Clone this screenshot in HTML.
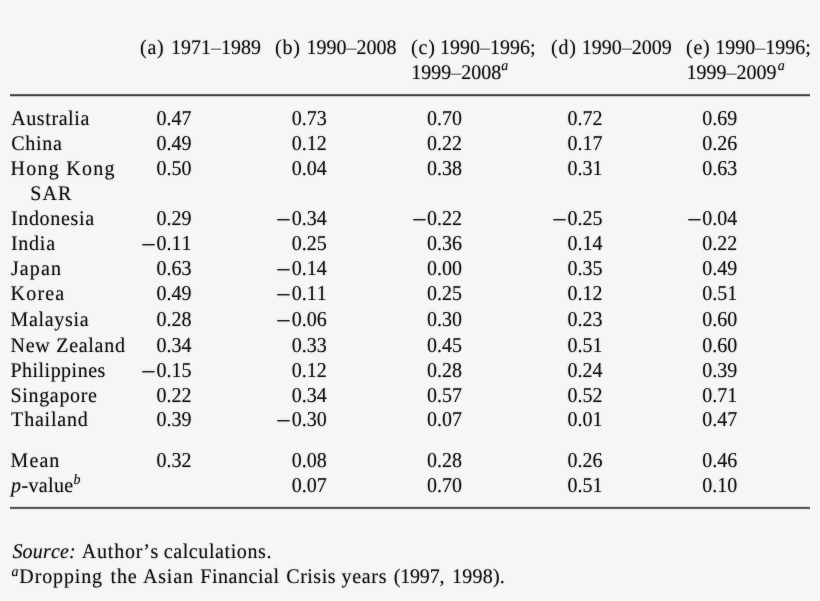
<!DOCTYPE html>
<html>
<head>
<meta charset="utf-8">
<title>Table</title>
<style>
html,body{margin:0;padding:0}
body{width:820px;height:601px;background:#f6f6f6;position:relative;overflow:hidden;font-family:"Liberation Serif",serif;color:#1a1a1a;text-rendering:geometricPrecision}
body::after{content:"";position:absolute;left:0;top:0;width:818px;height:599px;border:1px solid #f9f9f9;pointer-events:none}
#w{position:absolute;left:0;top:0;width:820px;height:601px;filter:blur(0.7px);}
.t,.n,.m{position:absolute;white-space:pre;font-size:20px;line-height:20px;font-kerning:none;-webkit-text-stroke:0px #1a1a1a;text-shadow:0 0 1.7px rgba(0,0,0,0.45)}
.n{transform:scaleY(1.06);transform-origin:50% 55%}
.t{transform:scaleY(1.04);transform-origin:50% 85%}
.m{transform-origin:0 50%;transform:scale(1.32,1.4);color:#2a2a2a;-webkit-text-stroke:0;text-shadow:0 0 1.7px rgba(0,0,0,0.3)}
.s{font-size:14px;position:relative;top:-9px;line-height:0}
.sb{font-size:14px;position:relative;top:-8px;line-height:0}
.s2{font-size:14px;position:relative;top:-7px;line-height:0}
.g{margin-left:1.4px}
.d{color:#555;-webkit-text-stroke:0;text-shadow:none}
svg{position:absolute;left:0;top:0}
</style>
</head>
<body>
<div id="w">
<svg width="820" height="601" viewBox="0 0 820 601" shape-rendering="crispEdges">
<rect x="10" y="93" width="799.6" height="1" fill="rgb(236,236,236)"/>
<rect x="10" y="94" width="799.6" height="1" fill="rgb(105,105,105)"/>
<rect x="10" y="95" width="799.6" height="1" fill="rgb(72,72,72)"/>
<rect x="10" y="96" width="799.6" height="1" fill="rgb(200,200,200)"/>
<rect x="10" y="97" width="799.6" height="1" fill="rgb(244,244,244)"/>
<rect x="10" y="506" width="799.6" height="1" fill="rgb(222,222,222)"/>
<rect x="10" y="507" width="799.6" height="1" fill="rgb(80,80,80)"/>
<rect x="10" y="508" width="799.6" height="1" fill="rgb(108,108,108)"/>
<rect x="10" y="509" width="799.6" height="1" fill="rgb(226,226,226)"/>
</svg>
<span class="m" style="left:141.08px;top:236px">−</span>
<span class="m" style="left:141.08px;top:363px">−</span>
<span class="m" style="left:276.08px;top:211px">−</span>
<span class="m" style="left:276.08px;top:261px">−</span>
<span class="m" style="left:276.08px;top:286px">−</span>
<span class="m" style="left:276.08px;top:312px">−</span>
<span class="m" style="left:276.08px;top:412px">−</span>
<span class="m" style="left:411.88px;top:211px">−</span>
<span class="m" style="left:551.88px;top:211px">−</span>
<span class="m" style="left:686.68px;top:211px">−</span>
<span class="n" style="left:156.50px;top:109px">0.47</span>
<span class="n" style="left:156.50px;top:134px">0.49</span>
<span class="n" style="left:156.50px;top:159px">0.50</span>
<span class="n" style="left:156.50px;top:209px">0.29</span>
<span class="n" style="left:156.50px;top:234px">0.11</span>
<span class="n" style="left:156.50px;top:259px">0.63</span>
<span class="n" style="left:156.50px;top:284px">0.49</span>
<span class="n" style="left:156.50px;top:310px">0.28</span>
<span class="n" style="left:156.50px;top:336px">0.34</span>
<span class="n" style="left:156.50px;top:361px">0.15</span>
<span class="n" style="left:156.50px;top:386px">0.22</span>
<span class="n" style="left:156.50px;top:410px">0.39</span>
<span class="n" style="left:156.50px;top:451px">0.32</span>
<span class="n" style="left:291.70px;top:109px">0.73</span>
<span class="n" style="left:291.70px;top:134px">0.12</span>
<span class="n" style="left:291.70px;top:159px">0.04</span>
<span class="n" style="left:291.70px;top:209px">0.34</span>
<span class="n" style="left:291.70px;top:234px">0.25</span>
<span class="n" style="left:291.70px;top:259px">0.14</span>
<span class="n" style="left:291.70px;top:284px">0.11</span>
<span class="n" style="left:291.70px;top:310px">0.06</span>
<span class="n" style="left:291.70px;top:336px">0.33</span>
<span class="n" style="left:291.70px;top:361px">0.12</span>
<span class="n" style="left:291.70px;top:386px">0.34</span>
<span class="n" style="left:291.70px;top:410px">0.30</span>
<span class="n" style="left:291.70px;top:451px">0.08</span>
<span class="n" style="left:291.70px;top:476px">0.07</span>
<span class="n" style="left:426.90px;top:109px">0.70</span>
<span class="n" style="left:426.90px;top:134px">0.22</span>
<span class="n" style="left:426.90px;top:159px">0.38</span>
<span class="n" style="left:426.90px;top:209px">0.22</span>
<span class="n" style="left:426.90px;top:234px">0.36</span>
<span class="n" style="left:426.90px;top:259px">0.00</span>
<span class="n" style="left:426.90px;top:284px">0.25</span>
<span class="n" style="left:426.90px;top:310px">0.30</span>
<span class="n" style="left:426.90px;top:336px">0.45</span>
<span class="n" style="left:426.90px;top:361px">0.28</span>
<span class="n" style="left:426.90px;top:386px">0.57</span>
<span class="n" style="left:426.90px;top:410px">0.07</span>
<span class="n" style="left:426.90px;top:451px">0.28</span>
<span class="n" style="left:426.90px;top:476px">0.70</span>
<span class="n" style="left:567.50px;top:109px">0.72</span>
<span class="n" style="left:567.50px;top:134px">0.17</span>
<span class="n" style="left:567.50px;top:159px">0.31</span>
<span class="n" style="left:567.50px;top:209px">0.25</span>
<span class="n" style="left:567.50px;top:234px">0.14</span>
<span class="n" style="left:567.50px;top:259px">0.35</span>
<span class="n" style="left:567.50px;top:284px">0.12</span>
<span class="n" style="left:567.50px;top:310px">0.23</span>
<span class="n" style="left:567.50px;top:336px">0.51</span>
<span class="n" style="left:567.50px;top:361px">0.24</span>
<span class="n" style="left:567.50px;top:386px">0.52</span>
<span class="n" style="left:567.50px;top:410px">0.01</span>
<span class="n" style="left:567.50px;top:451px">0.26</span>
<span class="n" style="left:567.50px;top:476px">0.51</span>
<span class="n" style="left:702.20px;top:109px">0.69</span>
<span class="n" style="left:702.20px;top:134px">0.26</span>
<span class="n" style="left:702.20px;top:159px">0.63</span>
<span class="n" style="left:702.20px;top:209px">0.04</span>
<span class="n" style="left:702.20px;top:234px">0.22</span>
<span class="n" style="left:702.20px;top:259px">0.49</span>
<span class="n" style="left:702.20px;top:284px">0.51</span>
<span class="n" style="left:702.20px;top:310px">0.60</span>
<span class="n" style="left:702.20px;top:336px">0.60</span>
<span class="n" style="left:702.20px;top:361px">0.39</span>
<span class="n" style="left:702.20px;top:386px">0.71</span>
<span class="n" style="left:702.20px;top:410px">0.47</span>
<span class="n" style="left:702.20px;top:451px">0.46</span>
<span class="n" style="left:702.20px;top:476px">0.10</span>
<span class="t" style="left:11.24px;top:109px;letter-spacing:0.594px;">Australia</span>
<span class="t" style="left:11.14px;top:134px;letter-spacing:0.714px;">China</span>
<span class="t" style="left:10.59px;top:159px;letter-spacing:1.239px;">Hong Kong</span>
<span class="t" style="left:30.17px;top:184px;letter-spacing:1.101px;">SAR</span>
<span class="t" style="left:10.92px;top:209px;letter-spacing:0.674px;">Indonesia</span>
<span class="t" style="left:10.92px;top:234px;letter-spacing:0.752px;">India</span>
<span class="t" style="left:10.91px;top:259px;letter-spacing:1.116px;">Japan</span>
<span class="t" style="left:10.59px;top:284px;letter-spacing:1.197px;">Korea</span>
<span class="t" style="left:10.58px;top:310px;letter-spacing:0.674px;">Malaysia</span>
<span class="t" style="left:10.58px;top:336px;letter-spacing:0.714px;">New Zealand</span>
<span class="t" style="left:10.40px;top:361px;letter-spacing:0.490px;">Philippines</span>
<span class="t" style="left:10.44px;top:386px;letter-spacing:0.677px;">Singapore</span>
<span class="t" style="left:11.11px;top:410px;letter-spacing:0.806px;">Thailand</span>
<span class="t" style="left:10.58px;top:451px;letter-spacing:1.086px;">Mean</span>
<span class="t" style="left:139.98px;top:38px;letter-spacing:0.800px;">(a)</span>
<span class="t" style="left:171.00px;top:38px;">1971<span class="d">–</span>1989</span>
<span class="t" style="left:275.09px;top:38px;letter-spacing:0.800px;">(b)</span>
<span class="t" style="left:306.52px;top:38px;">1990<span class="d">–</span>2008</span>
<span class="t" style="left:411.04px;top:38px;letter-spacing:0.800px;">(c)</span>
<span class="t" style="left:440.01px;top:38px;">1990<span class="d">–</span>1996;</span>
<span class="t" style="left:411.33px;top:63px;">1999<span class="d">–</span>2008<i class="s">a</i></span>
<span class="t" style="left:550.98px;top:38px;letter-spacing:0.800px;">(d)</span>
<span class="t" style="left:581.74px;top:38px;">1990<span class="d">–</span>2009</span>
<span class="t" style="left:685.98px;top:38px;letter-spacing:0.800px;">(e)</span>
<span class="t" style="left:715.35px;top:38px;">1990<span class="d">–</span>1996;</span>
<span class="t" style="left:686.38px;top:63px;">1999<span class="d">–</span>2009<i class="s g">a</i></span>
<span class="t" style="left:11.09px;top:476px;letter-spacing:0.363px;"><i>p</i>-value<i class="sb">b</i></span>
<span class="t" style="left:12.43px;top:542px;letter-spacing:0.169px;"><i>Source:</i></span>
<span class="t" style="left:81.87px;top:542px;letter-spacing:0.775px;">Author’s</span>
<span class="t" style="left:163.70px;top:542px;letter-spacing:0.604px;">calculations.</span>
<span class="t" style="left:11.47px;top:567px;letter-spacing:0.872px;"><i class="s2">a</i>Dropping</span>
<span class="t" style="left:110.40px;top:567px;letter-spacing:0.935px;">the</span>
<span class="t" style="left:143.05px;top:567px;letter-spacing:0.800px;">Asian</span>
<span class="t" style="left:200.24px;top:567px;letter-spacing:0.557px;">Financial</span>
<span class="t" style="left:286.29px;top:567px;letter-spacing:0.511px;">Crisis</span>
<span class="t" style="left:341.59px;top:567px;letter-spacing:0.679px;">years</span>
<span class="t" style="left:393.67px;top:567px;letter-spacing:-0.155px;">(1997,</span>
<span class="t" style="left:452.12px;top:567px;letter-spacing:0.218px;">1998).</span>
</div>
</body>
</html>
